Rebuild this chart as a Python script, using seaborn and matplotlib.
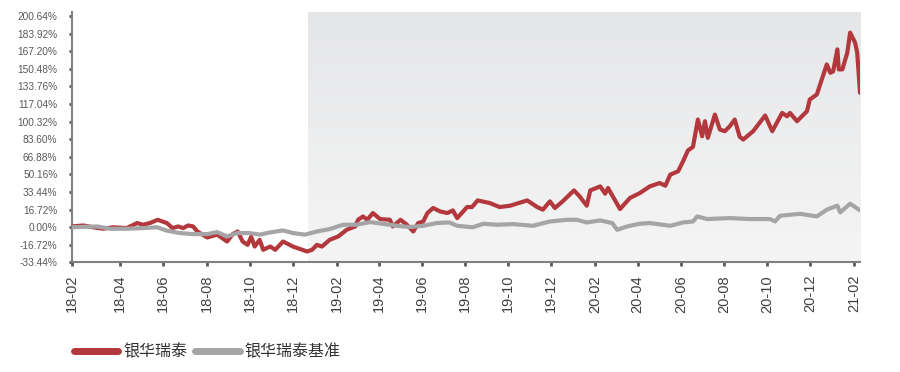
import numpy as np
import pandas as pd
import seaborn as sns
import matplotlib.pyplot as plt
import matplotlib.dates as mdates
from matplotlib.colors import LinearSegmentedColormap

sns.set_style("white")
plt.rcParams['font.family'] = ['Liberation Sans', 'Noto Sans CJK SC', 'DejaVu Sans']

# cumulative return of the fund (%)
fund_dates = [
    "2018-01-23", "2018-02-08", "2018-02-22", "2018-03-08", "2018-03-22", "2018-04-10",
    "2018-04-25", "2018-05-03", "2018-05-13", "2018-05-24", "2018-06-06", "2018-06-14",
    "2018-06-22", "2018-06-29", "2018-07-06", "2018-07-13", "2018-07-19", "2018-08-02",
    "2018-08-16", "2018-08-30", "2018-09-07", "2018-09-14", "2018-09-21", "2018-09-28",
    "2018-10-03", "2018-10-08", "2018-10-15", "2018-10-20", "2018-10-30", "2018-11-06",
    "2018-11-17", "2018-12-01", "2018-12-21", "2018-12-28", "2019-01-04", "2019-01-11",
    "2019-01-22", "2019-02-03", "2019-02-15", "2019-02-27", "2019-03-03", "2019-03-10",
    "2019-03-16", "2019-03-24", "2019-04-03", "2019-04-17", "2019-04-21", "2019-05-02",
    "2019-05-11", "2019-05-20", "2019-05-27", "2019-06-03", "2019-06-09", "2019-06-17",
    "2019-06-27", "2019-07-07", "2019-07-15", "2019-07-21", "2019-08-04", "2019-08-11",
    "2019-08-19", "2019-09-05", "2019-09-19", "2019-10-04", "2019-10-13", "2019-10-28",
    "2019-11-11", "2019-11-19", "2019-11-29", "2019-12-06", "2019-12-17", "2020-01-02",
    "2020-01-10", "2020-01-20", "2020-01-25", "2020-02-08", "2020-02-15", "2020-02-19",
    "2020-03-07", "2020-03-21", "2020-04-04", "2020-04-18", "2020-05-02", "2020-05-10",
    "2020-05-17", "2020-05-28", "2020-06-04", "2020-06-11", "2020-06-18", "2020-06-25",
    "2020-07-01", "2020-07-05", "2020-07-09", "2020-07-19", "2020-07-26", "2020-08-02",
    "2020-08-09", "2020-08-16", "2020-08-23", "2020-08-28", "2020-09-11", "2020-09-28",
    "2020-10-08", "2020-10-22", "2020-10-29", "2020-11-02", "2020-11-12", "2020-11-26",
    "2020-11-30", "2020-12-10", "2020-12-17", "2020-12-24", "2020-12-29", "2021-01-02",
    "2021-01-08", "2021-01-10", "2021-01-15", "2021-01-22", "2021-01-26", "2021-02-02",
    "2021-02-05", "2021-02-09",
]
fund_values = [
    0.8, 1.7, 0.0, -1.4, 0.0, -0.8,
    4.0, 2.4, 4.0, 7.1, 4.0, -0.8,
    0.8, -0.8, 1.7, 0.8, -4.0, -9.7,
    -7.0, -13.5, -6.5, -4.0, -13.5, -16.7,
    -9.0, -18.3, -11.9, -21.4, -18.3, -21.4,
    -13.5, -18.3, -23.0, -21.4, -16.7, -18.3,
    -11.9, -8.7, -2.4, 0.8, 7.1, 10.3,
    7.1, 13.5, 7.8, 7.1, 0.8, 7.1,
    2.4, -4.0, 4.0, 5.5, 13.5, 18.3,
    15.0, 13.5, 16.0, 8.7, 19.2, 19.2,
    25.5, 23.0, 19.2, 20.5, 22.4, 25.5,
    19.2, 16.7, 24.6, 18.3, 24.6, 35.0,
    29.3, 20.5, 35.0, 38.8, 31.9, 37.3,
    17.3, 27.8, 32.5, 38.8, 42.0, 39.5,
    50.0, 53.1, 62.6, 73.0, 76.3, 102.3,
    86.4, 100.7, 84.9, 107.0, 92.8, 91.2,
    95.9, 102.3, 86.0, 83.3, 91.2, 106.1,
    91.2, 108.6, 105.4, 108.6, 100.7, 110.2,
    121.3, 126.1, 140.4, 154.6, 146.7, 148.0,
    168.9, 149.9, 149.9, 165.8, 184.8, 175.3,
    165.8, 127.7,
]

# benchmark cumulative return (%)
bench_dates = [
    "2018-01-23", "2018-02-27", "2018-03-18", "2018-04-10", "2018-05-03", "2018-05-23",
    "2018-06-06", "2018-06-24", "2018-07-13", "2018-08-02", "2018-08-16", "2018-08-30",
    "2018-09-13", "2018-10-01", "2018-10-15", "2018-10-30", "2018-11-17", "2018-12-01",
    "2018-12-18", "2019-01-04", "2019-01-22", "2019-02-10", "2019-03-01", "2019-03-20",
    "2019-04-07", "2019-04-27", "2019-05-15", "2019-06-03", "2019-06-22", "2019-07-10",
    "2019-07-21", "2019-08-12", "2019-08-27", "2019-09-15", "2019-10-08", "2019-11-05",
    "2019-11-29", "2019-12-23", "2020-01-06", "2020-01-20", "2020-02-08", "2020-02-25",
    "2020-03-03", "2020-03-17", "2020-04-03", "2020-04-18", "2020-05-17", "2020-06-04",
    "2020-06-18", "2020-06-24", "2020-07-08", "2020-08-09", "2020-09-07", "2020-10-05",
    "2020-10-12", "2020-10-19", "2020-11-16", "2020-12-10", "2020-12-24", "2021-01-08",
    "2021-01-12", "2021-01-26", "2021-02-09",
]
bench_values = [
    0.0, 0.8, -1.4, -1.4, -0.8, 0.0,
    -3.2, -5.5, -6.5, -6.5, -4.6, -8.7,
    -5.5, -5.5, -7.0, -4.9, -3.0, -5.5,
    -7.0, -4.0, -1.7, 2.4, 2.4, 4.9,
    3.3, 1.4, 0.2, 1.4, 4.0, 4.6,
    1.4, 0.0, 3.3, 2.4, 3.0, 1.4,
    5.5, 7.1, 7.1, 4.6, 6.5, 4.0,
    -2.4, 0.8, 3.3, 4.0, 1.4, 4.6,
    5.5, 10.3, 7.8, 8.7, 7.8, 7.8,
    5.5, 10.9, 12.8, 10.3, 16.7, 20.5,
    14.1, 22.4, 16.0,
]

y_ticks = [-33.44, -16.72, 0.0, 16.72, 33.44, 50.16, 66.88, 83.60,
           100.32, 117.04, 133.76, 150.48, 167.20, 183.92, 200.64]
x_tick_dates = ["2018-01-23", "2018-04-01", "2018-06-01", "2018-08-01", "2018-10-01",
                "2018-12-01", "2019-02-01", "2019-04-01", "2019-06-01", "2019-08-01",
                "2019-10-01", "2019-12-01", "2020-02-01", "2020-04-01", "2020-06-01",
                "2020-08-01", "2020-10-01", "2020-12-01", "2021-02-01"]
x_tick_labels = ["18-02", "18-04", "18-06", "18-08", "18-10", "18-12", "19-02", "19-04",
                 "19-06", "19-08", "19-10", "19-12", "20-02", "20-04", "20-06", "20-08",
                 "20-10", "20-12", "21-02"]
shade_start = "2018-12-22"

fund = pd.DataFrame({"date": pd.to_datetime(fund_dates), "value": fund_values})
bench = pd.DataFrame({"date": pd.to_datetime(bench_dates), "value": bench_values})

red = "#B3383D"
grey = "#A5A5A8"

fig = plt.figure(figsize=(9, 3.72), dpi=100)
ax = fig.add_axes([0.08, 0.2944, 0.8756, 0.6733])

sns.lineplot(data=fund, x="date", y="value", color=red, linewidth=3.0, ax=ax,
             label="银华瑞泰", solid_capstyle="round", solid_joinstyle="round", zorder=3)
sns.lineplot(data=bench, x="date", y="value", color=grey, linewidth=3.0, ax=ax,
             label="银华瑞泰基准", solid_capstyle="round", solid_joinstyle="round", zorder=4)

x_lo, x_hi = pd.Timestamp("2018-01-23"), pd.Timestamp("2021-02-09")
y_lo, y_hi = -33.44, 204.4

# grey gradient band for the later period
shade_cmap = LinearSegmentedColormap.from_list("shade", ["#E5E6E8", "#F5F5F5"])
grad = np.linspace(0, 1, 256).reshape(-1, 1)
ax.imshow(grad, extent=(mdates.date2num(pd.Timestamp(shade_start)), mdates.date2num(x_hi), y_lo, y_hi),
          aspect="auto", cmap=shade_cmap, origin="upper", zorder=0)

ax.set_xlim(x_lo, x_hi)
ax.set_ylim(y_lo, y_hi)

ax.set_yticks(y_ticks)
ax.set_yticklabels([f"{v:.2f}%" for v in y_ticks])
ax.set_xticks(pd.to_datetime(x_tick_dates))
ax.set_xticklabels(x_tick_labels, rotation=90)
ax.set_xlabel("")
ax.set_ylabel("")

ax.tick_params(axis="y", direction="out", length=2.5, width=2, color="#595959",
               labelsize=7.3, labelcolor="#595959", pad=8, left=True)
ax.tick_params(axis="x", direction="out", length=3, width=2, color="#595959",
               labelsize=10.5, labelcolor="#404040", pad=6, bottom=True)

for side in ["top", "right"]:
    ax.spines[side].set_visible(False)
for side in ["left", "bottom"]:
    ax.spines[side].set_color("#808080")
    ax.spines[side].set_linewidth(1.5)

handles, labels = ax.get_legend_handles_labels()
ax.get_legend().remove()
leg = fig.legend(handles, labels, loc="center left", bbox_to_anchor=(0.066, 0.054), ncol=2,
                 frameon=False, handlelength=2.8, handletextpad=0.3, columnspacing=0.5,
                 prop={"family": ["Noto Sans CJK SC", "DejaVu Sans"], "size": 11.5})
for line in leg.get_lines():
    line.set_linewidth(5)
    line.set_solid_capstyle("round")
for t in leg.get_texts():
    t.set_color("#333333")

fig.savefig("out.png", dpi=100)
